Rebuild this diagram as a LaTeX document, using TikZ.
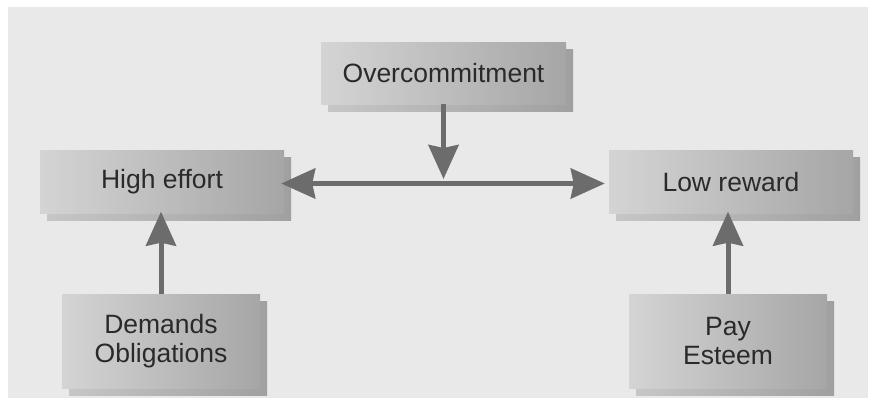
\documentclass[tikz,border=0pt]{standalone}
\usepackage{fontspec}
\setmainfont{Liberation Sans}
\usetikzlibrary{arrows.meta,shadows}
\definecolor{bgc}{HTML}{E9E9E9}
\definecolor{boxl}{HTML}{D4D4D4}
\definecolor{boxr}{HTML}{A6A6A6}
\definecolor{shl}{HTML}{C6C6C6}
\definecolor{shr}{HTML}{A0A0A0}
\definecolor{arr}{HTML}{6C6C6C}
\definecolor{txt}{HTML}{2A2A2A}
\tikzset{
  x=1pt, y=-1pt,
  boxnode/.style={inner sep=0pt, left color=boxl, right color=boxr,
    text=txt, font=\fontsize{26.5}{28.5}\selectfont, align=center,
    general shadow={shadow xshift=7pt, shadow yshift=-7pt, left color=shl, right color=shr}},
  conn/.style={draw=arr, line width=5pt, -{Stealth[length=34pt,width=30pt,inset=3pt]}},
}
\begin{document}
\begin{tikzpicture}
\useasboundingbox (0,0) rectangle (870,399);
\fill[white] (0,0) rectangle (870,399);
\fill[bgc] (8,7) rectangle (868,398);
\node[boxnode, minimum width=245pt, minimum height=62pt] (oc) at (443.5,73) {Overcommitment};
\node[boxnode, minimum width=244pt, minimum height=63pt] (he) at (162,182) {High effort};
\node[boxnode, minimum width=244pt, minimum height=63pt] (lr) at (731,182) {Low reward};
\node[boxnode, minimum width=198pt, minimum height=94pt] (dm) at (161,341) {Demands\\Obligations};
\node[boxnode, minimum width=198pt, minimum height=94pt] (pe) at (728,341) {Pay\\Esteem};
\coordinate (mid) at (443.5,179);
\draw[conn, {Stealth[length=34pt,width=30pt,inset=3pt]}-{Stealth[length=34pt,width=30pt,inset=3pt]}, shorten <=-3pt, shorten >=4pt] ([yshift=-1.5pt]he.east) -- ([yshift=-1.5pt]lr.west);
\draw[conn] (oc.south) -- (mid);
\draw[conn, shorten >=-2pt] (dm.north) -- (dm.north |- he.south);
\draw[conn, shorten >=-2pt] (pe.north) -- (pe.north |- lr.south);
\end{tikzpicture}
\end{document}
